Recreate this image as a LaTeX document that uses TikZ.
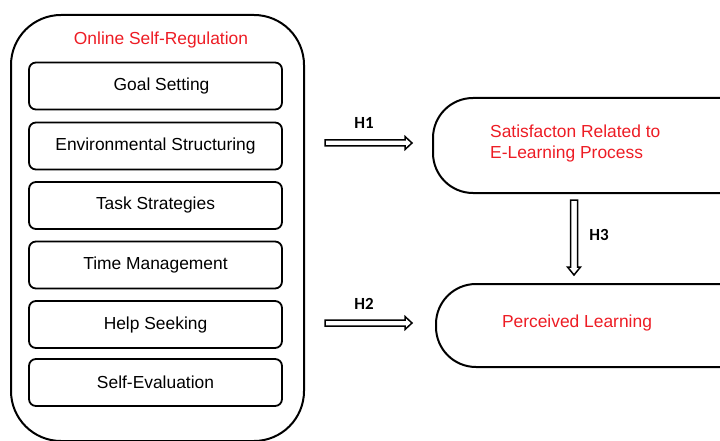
\documentclass[tikz,border=0pt]{standalone}
\usepackage{fontspec}
\setmainfont{Liberation Sans}
\newfontfamily\hfont{Carlito}
\usetikzlibrary{calc}
\definecolor{tred}{RGB}{237,28,36}
\begin{document}
\begin{tikzpicture}[x=1pt,y=-1pt,
  outerbox/.style={draw, line width=2pt, rounded corners=50pt, anchor=north west, inner sep=0pt},
  itembox/.style={draw, line width=1.8pt, rounded corners=7pt, minimum width=253pt, minimum height=47pt, inner sep=0pt, font=\fontsize{17.4}{20}\selectfont},
  bigbox/.style={draw, line width=2pt, rounded corners=40pt, anchor=north west, inner sep=0pt},
  redtext/.style={text=tred, font=\fontsize{17.4}{21}\selectfont, inner sep=0pt},
  hlabel/.style={font=\hfont\bfseries\fontsize{17}{20}\selectfont, inner sep=0pt},
  harrow/.style={draw, line width=1.5pt, fill=white, line join=miter}
]
\useasboundingbox (0,0) rectangle (720,441);
\clip (0,0) rectangle (720,441);

% outer container
\node[outerbox, minimum width=293pt, minimum height=426pt] (osr) at (10,14) {};
\node[redtext] (title) at (161,40) {Online Self-Regulation};

% items
\node[itembox] (goal) at (155.5,86) {\hspace*{12pt}Goal Setting};
\node[itembox] (env)  at (155.5,146) {Environmental Structuring};
\node[itembox] (task) at (155.5,205.5) {Task Strategies};
\node[itembox] (time) at (155.5,265) {Time Management};
\node[itembox] (help) at (155.5,324.5) {Help Seeking};
\node[itembox] (self) at (155.5,382.5) {Self-Evaluation};

% right boxes
\node[bigbox, minimum width=330pt, minimum height=95pt] (sat) at (432,97) {};
\node[redtext, align=left, anchor=west] (sattext) at (490,143.5) {Satisfacton Related to\\E-Learning Process};
\node[bigbox, minimum width=330pt, minimum height=83pt] (pl) at (435,283) {};
\node[redtext] (pltext) at (577,323) {Perceived Learning};

% arrows
\coordinate (h1s) at (325,143);
\coordinate (h1e) at (412,143);
\coordinate (h2s) at (325,323);
\coordinate (h2e) at (412,323);
\coordinate (h3s) at (574,200);
\coordinate (h3e) at (574,275);

\draw[harrow] ($(h1s)+(0,-3)$) -- ($(h1e)+(-7,-3)$) -- ($(h1e)+(-7,-6.5)$) -- (h1e)
  -- ($(h1e)+(-7,6.5)$) -- ($(h1e)+(-7,3)$) -- ($(h1s)+(0,3)$) -- cycle;
\draw[harrow] ($(h2s)+(0,-3)$) -- ($(h2e)+(-7,-3)$) -- ($(h2e)+(-7,-6.5)$) -- (h2e)
  -- ($(h2e)+(-7,6.5)$) -- ($(h2e)+(-7,3)$) -- ($(h2s)+(0,3)$) -- cycle;
\draw[harrow] ($(h3s)+(-3.5,0)$) -- ($(h3e)+(-3.5,-8)$) -- ($(h3e)+(-6.5,-8)$) -- (h3e)
  -- ($(h3e)+(6.5,-8)$) -- ($(h3e)+(3.5,-8)$) -- ($(h3s)+(3.5,0)$) -- cycle;

\node[hlabel] (l1) at (364,123) {H1};
\node[hlabel] (l2) at (364,304) {H2};
\node[hlabel] (l3) at (599,235) {H3};
\end{tikzpicture}
\end{document}
